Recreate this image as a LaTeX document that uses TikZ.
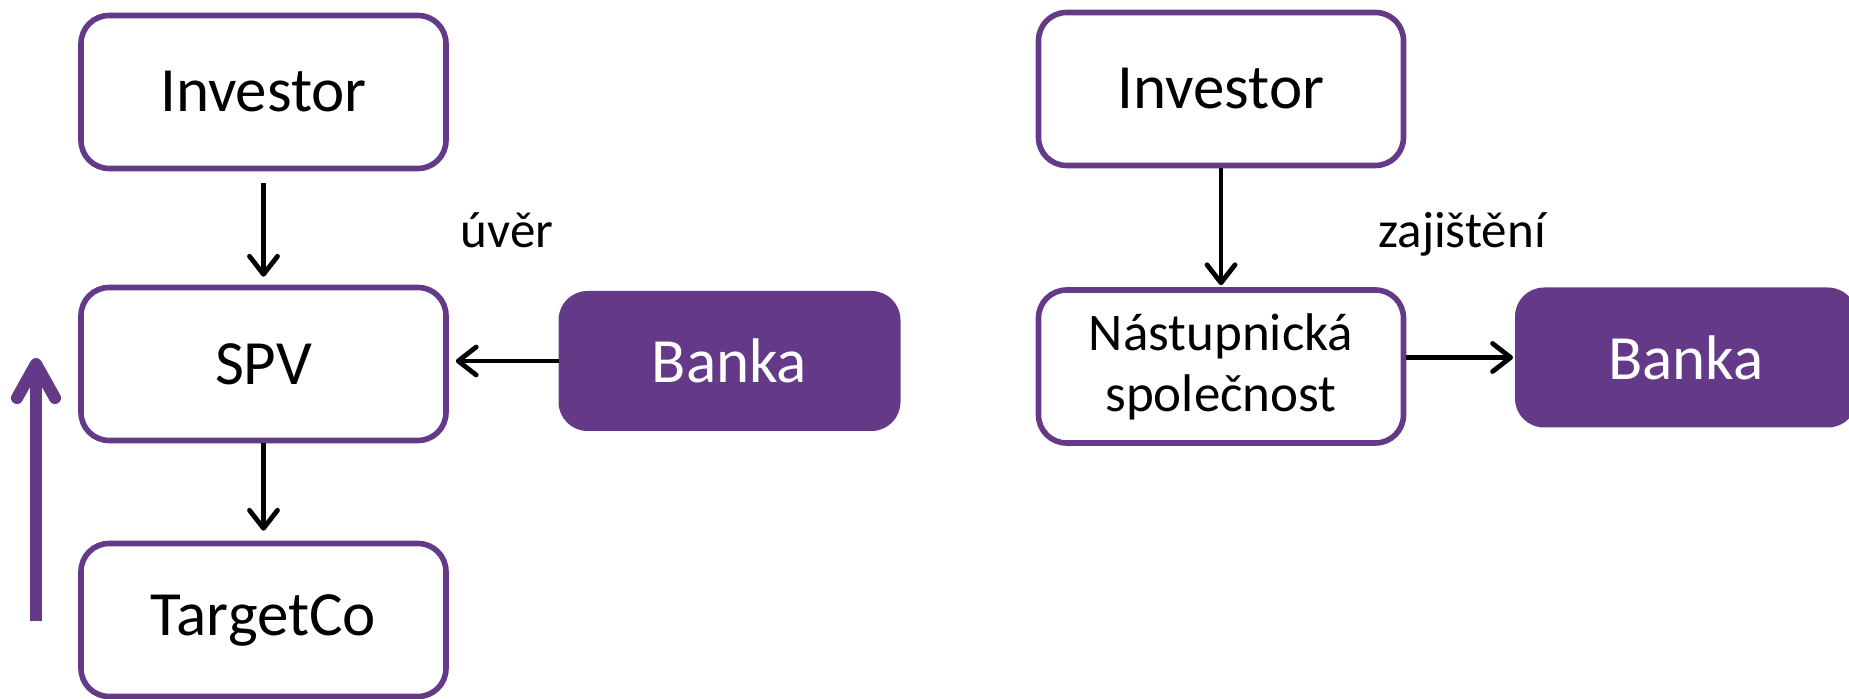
\documentclass[tikz,border=0pt]{standalone}
\usepackage{fontspec}
\setmainfont{Carlito}
\usetikzlibrary{arrows.meta}
\definecolor{vio}{RGB}{100,58,136}
\begin{document}
\begin{tikzpicture}[x=0.5pt,y=-0.5pt,
  box/.style={draw=vio, line width=2.8pt, rounded corners=14pt, fill=white,
    minimum width=182.5pt, minimum height=76.5pt, inner sep=0pt,
    font=\fontsize{31.5}{36}\selectfont},
  bank/.style={draw=vio, fill=vio, line width=1pt, rounded corners=14pt, text=white,
    minimum width=170pt, minimum height=69pt, inner sep=0pt,
    font=\fontsize{31.5}{36}\selectfont},
  conn/.style={-{Straight Barb[length=9pt,width=14pt,round]}, line width=2.4pt, black},
  lbl/.style={font=\fontsize{25.5}{30}\selectfont, inner sep=0pt}]
\useasboundingbox (0,0) rectangle (1849,699);
% left part
\node[box] (invL) at (263.5,92) {Investor};
\node[box] (spv) at (263.5,364) {SPV};
\node[box] (tgt) at (263.5,620) {TargetCo};
\node[bank] (bankL) at (729.5,361) {Banka};
\node[lbl] (uver) at (507,230) {úvěr};
\draw[conn, shorten <=6pt, shorten >=4pt] (invL.south) -- (spv.north);
\draw[conn, shorten >=5pt] (spv.south) -- (tgt.north);
\draw[conn, shorten >=3.5pt] (bankL.west) -- (bankL.west -| spv.east);
% purple arrow
\coordinate (pb) at (36,621);
\coordinate (pt) at (36,364);
\coordinate (pl) at (17,398);
\coordinate (pr) at (55,398);
\begin{scope}[shift={(3,3)}, gray, opacity=0.25]
\draw[line width=6pt] (pb) -- ([yshift=-3pt]pt);
\draw[line width=6pt, line cap=round, line join=round] (pl) -- (pt) -- (pr);
\end{scope}
\draw[vio, line width=6pt] (pb) -- ([yshift=-3pt]pt);
\draw[vio, line width=6pt, line cap=round, line join=round] (pl) -- (pt) -- (pr);
% right part
\node[box] (invR) at (1221,89) {Investor};
\node[box, align=center, font=\fontsize{26.5}{30.5}\selectfont] (nast) at (1221,366.5) {Nástupnická\\společnost};
\node[bank] (bankR) at (1686,357.5) {Banka};
\node[lbl] (zaj) at (1462,234) {zajištění};
\draw[conn, shorten >=1pt] (invR.south) -- (nast.north);
\draw[conn, shorten >=1pt] (nast.east |- bankR.west) -- (bankR.west);
\end{tikzpicture}
\end{document}
